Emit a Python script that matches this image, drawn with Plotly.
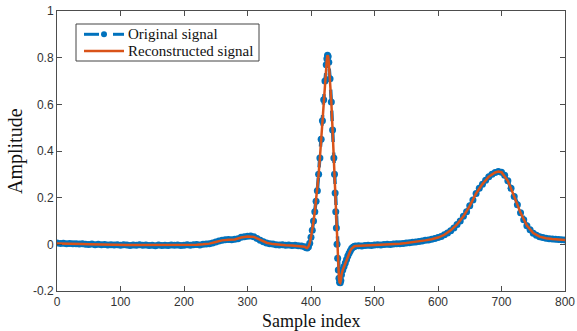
import plotly.graph_objects as go

# Original signal samples (index, amplitude)
orig_index = (
    list(range(0, 391, 5))
    + [392, 394, 396, 398, 400, 402, 404, 406, 408, 410, 412, 414, 416, 418, 420,
       422, 424, 425, 426, 427, 428, 430, 432, 434, 436, 437, 438, 439, 440, 441,
       442, 443, 444, 445, 446, 447, 448, 450, 452, 454, 456, 458, 460, 462, 464,
       466, 468, 470]
    + list(range(475, 801, 5))
)
orig_amp = [
    0.006, 0.004, 0.005, 0.003, 0.004, 0.002, 0.003, 0.001, 0.002, 0.000,
    -0.001, 0.001, -0.002, 0.000, -0.002, -0.001, -0.003, -0.002, -0.003, -0.002,
    -0.004, -0.002, -0.003, -0.005, -0.003, -0.004, -0.002, -0.004, -0.003, -0.005,
    -0.004, -0.006, -0.003, -0.005, -0.004, -0.005, -0.003, -0.004, -0.003, -0.005,
    -0.004, -0.002, -0.004, -0.002, -0.001, -0.003, 0.000, 0.001, 0.003, 0.006,
    0.010, 0.014, 0.018, 0.020, 0.021, 0.020, 0.022, 0.024, 0.030, 0.033,
    0.035, 0.036, 0.033, 0.025, 0.017, 0.011, 0.006, 0.003, 0.001, -0.002,
    -0.003, -0.002, -0.004, -0.003, -0.005, -0.004, -0.006, -0.007, -0.010,
    # QRS complex
    -0.014, -0.016, -0.010, 0.005, 0.030, 0.060, 0.100, 0.140, 0.185, 0.230,
    0.300, 0.370, 0.450, 0.530, 0.620, 0.700, 0.770, 0.795, 0.810, 0.805,
    0.780, 0.710, 0.610, 0.490, 0.370, 0.300, 0.220, 0.140, 0.070, 0.000,
    -0.060, -0.110, -0.145, -0.163, -0.165, -0.155, -0.130, -0.110, -0.095, -0.080,
    -0.065, -0.050, -0.038, -0.027, -0.018, -0.012, -0.009, -0.007,
    # ST segment and T wave
    -0.006, -0.007, -0.005, -0.004, -0.005, -0.003, -0.002, -0.003, -0.001, 0.000,
    -0.001, 0.001, 0.002, 0.003, 0.004, 0.006, 0.007, 0.009, 0.010, 0.012,
    0.014, 0.017, 0.019, 0.022, 0.025, 0.029, 0.034, 0.041, 0.049, 0.058,
    0.070, 0.085, 0.100, 0.120, 0.140, 0.165, 0.190, 0.218, 0.240, 0.258,
    0.275, 0.290, 0.300, 0.308, 0.312, 0.309, 0.296, 0.272, 0.240, 0.205,
    0.170, 0.135, 0.105, 0.080, 0.062, 0.048, 0.039, 0.033, 0.029, 0.026,
    0.024, 0.023, 0.022, 0.021, 0.020, 0.019,
]

# Reconstructed signal samples
recon_index = (
    list(range(0, 391, 10))
    + [392, 394, 396, 398, 400, 402, 404, 406, 408, 410, 412, 414, 416, 418, 420,
       422, 424, 425, 426, 427, 428, 430, 432, 434, 436, 437, 438, 439, 440, 441,
       442, 443, 444, 445, 446, 447, 448, 450, 452, 454, 456, 458, 460, 462, 464,
       466, 468, 470]
    + [480, 490, 500, 510, 520, 530, 540, 550, 560, 570, 580, 590, 600, 610, 620,
       630, 640, 650, 660, 670, 680, 690, 695, 700, 710, 720, 730, 740, 750, 760,
       770, 780, 790, 800]
)
recon_amp = [
    0.004, 0.004, 0.003, 0.002, 0.001, 0.000, -0.001, -0.002, -0.002, -0.003,
    -0.003, -0.003, -0.003, -0.003, -0.004, -0.004, -0.004, -0.004, -0.004, -0.004,
    -0.003, -0.003, -0.002, 0.000, 0.003, 0.010, 0.017, 0.020, 0.021, 0.029,
    0.034, 0.032, 0.018, 0.007, 0.001, -0.003, -0.004, -0.005, -0.006, -0.010,
    # QRS complex
    -0.014, -0.016, -0.010, 0.005, 0.030, 0.060, 0.100, 0.140, 0.185, 0.230,
    0.300, 0.370, 0.450, 0.530, 0.620, 0.700, 0.770, 0.795, 0.810, 0.805,
    0.780, 0.710, 0.610, 0.490, 0.370, 0.300, 0.220, 0.140, 0.070, 0.000,
    -0.060, -0.110, -0.145, -0.163, -0.165, -0.155, -0.130, -0.110, -0.095, -0.080,
    -0.065, -0.050, -0.038, -0.027, -0.018, -0.012, -0.009, -0.007,
    # ST segment and T wave
    -0.006, -0.005, -0.003, -0.002, -0.001, 0.001, 0.003, 0.006, 0.009, 0.012,
    0.017, 0.022, 0.029, 0.041, 0.060, 0.085, 0.120, 0.165, 0.218, 0.258,
    0.290, 0.308, 0.312, 0.309, 0.272, 0.205, 0.135, 0.080, 0.048, 0.033,
    0.026, 0.023, 0.021, 0.019,
]

series_names = ["Original signal", "Reconstructed signal"]
x_title = "Sample index"
y_title = "Amplitude"
x_ticks = [0, 100, 200, 300, 400, 500, 600, 700, 800]
y_ticks = [-0.2, 0, 0.2, 0.4, 0.6, 0.8, 1]
y_tick_text = ["-0.2", "0", "0.2", "0.4", "0.6", "0.8", "1"]

BLUE = "#0072BD"
ORANGE = "#D95319"
AXIS = "#4d4d4d"
SERIF = "Liberation Serif, Times New Roman, serif"
SANS = "Liberation Sans, Arial, sans-serif"

# Plot-area geometry in pixels (used to place the boxed legend and titles)
W, H = 577, 331
ML, MR, MT, MB = 57, 12, 11, 40
PW, PH = W - ML - MR, H - MT - MB


def px(x):
    return (x - ML) / PW


def py(y):
    return 1 - (y - MT) / PH


fig = go.Figure()
fig.add_trace(go.Scatter(
    x=orig_index, y=orig_amp, name=series_names[0],
    mode="lines+markers",
    line=dict(color=BLUE, width=3.5, dash="dash"),
    marker=dict(color=BLUE, size=7),
))
fig.add_trace(go.Scatter(
    x=recon_index, y=recon_amp, name=series_names[1],
    mode="lines",
    line=dict(color=ORANGE, width=2.5),
))

# Boxed legend in the upper-left corner
row1, row2 = 34.3, 51.0
shapes = [
    dict(type="rect", xref="paper", yref="paper",
         x0=px(76), x1=px(259), y0=py(61), y1=py(24),
         line=dict(color="#444444", width=1), fillcolor="white", layer="above"),
    dict(type="line", xref="paper", yref="paper",
         x0=px(84), x1=px(99), y0=py(row1), y1=py(row1),
         line=dict(color=BLUE, width=3), layer="above"),
    dict(type="line", xref="paper", yref="paper",
         x0=px(113), x1=px(124), y0=py(row1), y1=py(row1),
         line=dict(color=BLUE, width=3), layer="above"),
    dict(type="circle", xref="paper", yref="paper",
         x0=px(101), x1=px(107), y0=py(row1 + 3), y1=py(row1 - 3),
         line=dict(color=BLUE, width=0), fillcolor=BLUE, layer="above"),
    dict(type="line", xref="paper", yref="paper",
         x0=px(84), x1=px(124), y0=py(row2), y1=py(row2),
         line=dict(color=ORANGE, width=2.5), layer="above"),
]
annotations = [
    dict(text=name, xref="paper", yref="paper",
         x=px(126), y=py(row), xanchor="left", yanchor="middle", showarrow=False,
         font=dict(family=SERIF, size=15, color="#111111"))
    for name, row in zip(series_names, (row1, row2))
]
# Axis titles
annotations += [
    dict(text=x_title, xref="paper", yref="paper", x=0.5, y=py(321),
         xanchor="center", yanchor="middle", showarrow=False,
         font=dict(family=SERIF, size=18, color="#111111")),
    dict(text=y_title, xref="paper", yref="paper", x=px(15), y=0.5,
         xanchor="center", yanchor="middle", showarrow=False, textangle=-90,
         font=dict(family=SERIF, size=20, color="#111111")),
]

axis_common = dict(
    showline=True, linecolor=AXIS, linewidth=1, mirror="ticks",
    ticks="inside", ticklen=5, tickcolor=AXIS, tickwidth=1,
    showgrid=False, zeroline=False, automargin=False,
    tickfont=dict(family=SANS, size=12, color="#333333"),
)

fig.update_layout(
    width=W, height=H,
    margin=dict(l=ML, r=MR, t=MT, b=MB),
    paper_bgcolor="white", plot_bgcolor="white",
    showlegend=False,
    shapes=shapes,
    annotations=annotations,
    xaxis=dict(range=[0, 800], tickvals=x_ticks, ticklabelstandoff=0, **axis_common),
    yaxis=dict(range=[-0.2, 1], tickvals=y_ticks, ticktext=y_tick_text, **axis_common),
)

fig.write_html("out.html")
